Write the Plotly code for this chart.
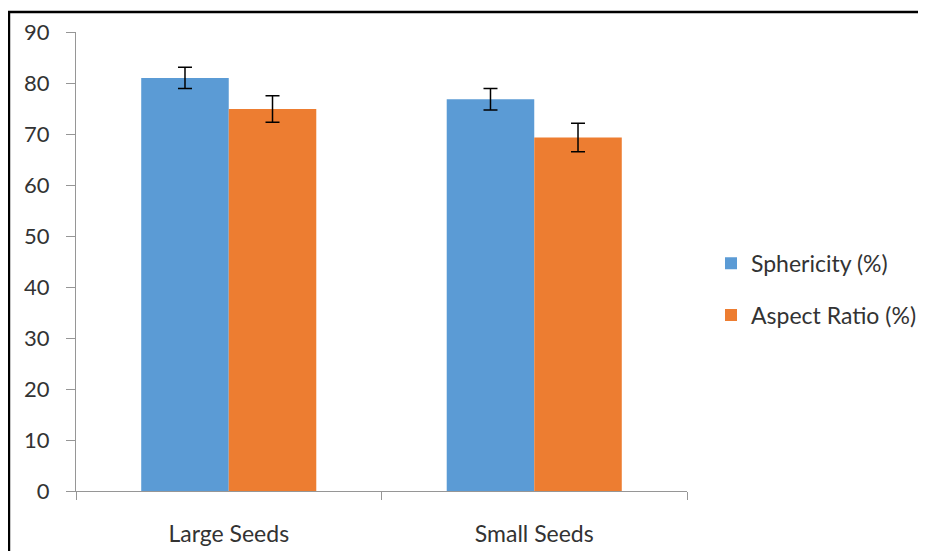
import plotly.graph_objects as go

categories = ["Large Seeds", "Small Seeds"]
sphericity = [81.0, 76.8]
sphericity_err = [2.1, 2.1]
aspect_ratio = [74.9, 69.3]
aspect_ratio_err = [2.6, 2.8]

font_family = "Lato, Carlito, 'Liberation Sans', sans-serif"

fig = go.Figure()
fig.add_trace(go.Bar(
    x=categories, y=sphericity, name="Sphericity (%)",
    marker=dict(color="#5B9BD5", line=dict(width=0)),
    error_y=dict(type="data", array=sphericity_err, visible=True,
                 color="black", thickness=1.5, width=7),
    legendgroup="a",
))
fig.add_trace(go.Bar(
    x=categories, y=aspect_ratio, name="Aspect Ratio (%)",
    marker=dict(color="#ED7D31", line=dict(width=0)),
    error_y=dict(type="data", array=aspect_ratio_err, visible=True,
                 color="black", thickness=1.5, width=7),
    legendgroup="b",
))

fig.update_layout(
    width=918, height=543,
    margin=dict(l=68, r=239, t=24, b=60, autoexpand=False),
    paper_bgcolor="white", plot_bgcolor="white",
    barmode="group", bargap=0.427, bargroupgap=0,
    font=dict(family=font_family, size=22, color="#333333"),
    legend=dict(xref="container", yref="container",
                x=0.7658, y=0.482, xanchor="left", yanchor="middle",
                traceorder="grouped", tracegroupgap=19,
                font=dict(size=23, color="#333333"),
                itemwidth=30),
    yaxis=dict(range=[0, 90], tickvals=list(range(0, 91, 10)),
               showgrid=False, showline=True, linecolor="#969696",
               ticks="outside", ticklen=9, tickcolor="#969696",
               zeroline=False, tickfont=dict(size=22), ticklabelstandoff=12,
               automargin=False),
    xaxis=dict(showline=True, linecolor="#969696", ticks="outside",
               tickson="boundaries", ticklen=8, tickcolor="#969696",
               showgrid=False, tickfont=dict(size=23), ticklabelstandoff=22,
               automargin=False),
    shapes=[dict(type="rect", xref="paper", yref="paper",
                 x0=-0.1097, y0=-0.5, x1=2.0, y1=1.0436,
                 line=dict(color="black", width=2.5), layer="above")],
)

fig.write_html("out.html")
